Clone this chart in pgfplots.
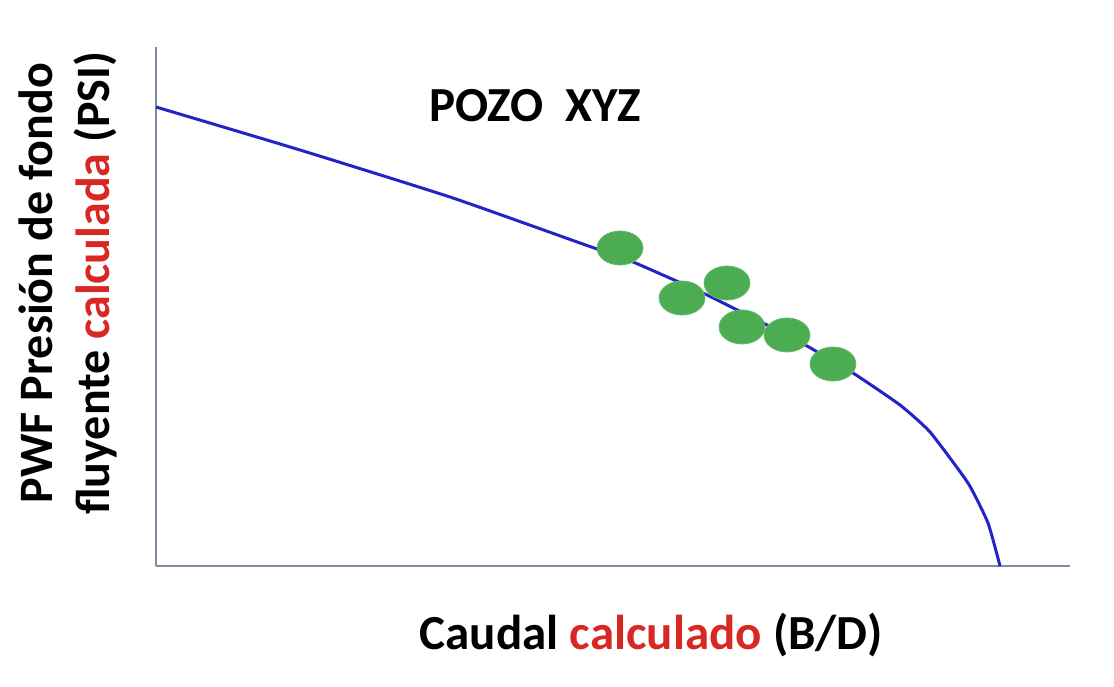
\documentclass[border=0pt]{standalone}
\usepackage{fontspec}
\setmainfont{Carlito}
\usepackage{pgfplots}
\pgfplotsset{compat=1.18}
\definecolor{curveblue}{RGB}{35,35,200}
\definecolor{axgray}{RGB}{125,140,160}
\definecolor{ptgreen}{RGB}{76,172,82}
\definecolor{lblred}{RGB}{215,40,35}
\begin{document}
\begin{tikzpicture}
\useasboundingbox (-78pt,-60pt) rectangle (479pt,283pt);
\begin{axis}[
  scale only axis, width=457pt, height=259.5pt,
  xmin=0, xmax=914, ymin=0, ymax=519,
  axis x line=bottom, axis y line=left,
  axis line style={-, color=axgray, line width=1pt},
  xtick=\empty, ytick=\empty,
  clip=false,
  xlabel={\textbf{Caudal} \textcolor{lblred}{\textbf{calculado}} \textbf{(B/D)}},
  xlabel style={font=\fontsize{24.5}{28}\selectfont\bfseries, at={(axis description cs:0.542,-0.133)}, anchor=center},
  ylabel={\textbf{PWF Presión de fondo}\\ \textbf{fluyente} \textcolor{lblred}{\textbf{calculada}} \textbf{(PSI)}},
  ylabel style={font=\fontsize{24}{28.5}\selectfont\bfseries, align=center, at={(axis description cs:-0.096,0.545)}, anchor=center, rotate=0},
]
\addplot[curveblue, line width=1.5pt, smooth, tension=0.3] coordinates {
 (0,459) (144,416) (294,369) (424,323) (477,304) (547,273) (611,241)
 (651,220) (697,193) (744,161) (774,134) (812,83) (832,43) (844,0)
};
\addplot[only marks, mark=*, mark size=8.5pt, mark options={xscale=1.35, fill=ptgreen, draw=ptgreen!85!white}] coordinates {
 (464,318) (526,268) (571,283) (586,239) (631,231) (677,202)
};
\node[font=\fontsize{24.5}{28}\selectfont\bfseries, anchor=center] at (axis description cs:0.415,0.888) {POZO\ \ XYZ};
\end{axis}
\end{tikzpicture}
\end{document}
